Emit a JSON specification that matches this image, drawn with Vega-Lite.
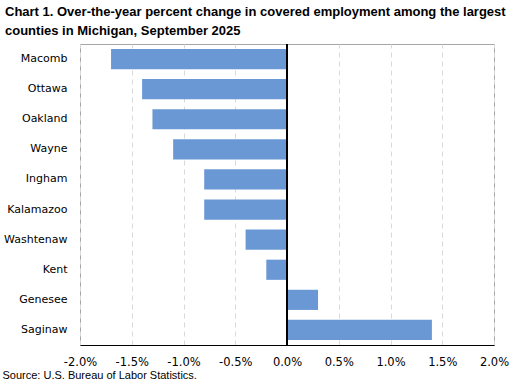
{
  "$schema": "https://vega.github.io/schema/vega-lite/v6.json",
  "width": 414,
  "height": 301,
  "autosize": "none",
  "padding": {"left": 80, "top": 44, "right": 22, "bottom": 38},
  "background": "white",
  "title": {
    "text": ["Chart 1.  Over-the-year percent change in covered employment among the largest", "counties in Michigan, September 2025"],
    "anchor": "start",
    "frame": "group",
    "dx": -75,
    "offset": 6,
    "font": "Liberation Sans",
    "fontSize": 13,
    "fontWeight": "bold",
    "color": "#000000",
    "lineHeight": 19
  },
  "config": {
    "view": {"stroke": "#a6a6a6", "strokeWidth": 1},
    "axis": {"labelFont": "DejaVu Sans", "labelFontSize": 11, "labelColor": "#000000"}
  },
  "data": {
    "values": [
      {"county": "Macomb", "change": -1.7},
      {"county": "Ottawa", "change": -1.4},
      {"county": "Oakland", "change": -1.3},
      {"county": "Wayne", "change": -1.1},
      {"county": "Ingham", "change": -0.8},
      {"county": "Kalamazoo", "change": -0.8},
      {"county": "Washtenaw", "change": -0.4},
      {"county": "Kent", "change": -0.2},
      {"county": "Genesee", "change": 0.3},
      {"county": "Saginaw", "change": 1.4}
    ]
  },
  "layer": [
    {
      "mark": {"type": "bar", "color": "#6a98d5"},
      "encoding": {
        "y": {
          "field": "county",
          "type": "nominal",
          "sort": null,
          "scale": {"paddingInner": 0.33, "paddingOuter": 0.165},
          "axis": {"title": null, "ticks": false, "domain": false, "labelPadding": 13}
        },
        "x": {
          "field": "change",
          "type": "quantitative",
          "scale": {"domain": [-2, 2], "nice": false},
          "axis": {
            "values": [-2, -1.5, -1, -0.5, 0, 0.5, 1, 1.5, 2],
            "labelExpr": "replace(format(datum.value, '.1f'), '\u2212', '-') + '%'",
            "labelOverlap": false,
            "labelFlush": false,
            "labelFontSize": 11.5,
            "ticks": false,
            "domainColor": "#000000",
            "labelPadding": 11,
            "grid": true,
            "gridColor": "#d9d9d9",
            "gridDash": [5, 4],
            "title": "Source: U.S. Bureau of Labor Statistics.",
            "titleFont": "Liberation Sans",
            "titleFontSize": 11,
            "titleFontWeight": "normal",
            "titleColor": "#000000",
            "titleAnchor": "start",
            "titleAlign": "left",
            "titleX": -78,
            "titleY": 33,
            "titleBaseline": "alphabetic"
          }
        }
      }
    },
    {
      "mark": {"type": "rule", "color": "#000000", "strokeWidth": 1},
      "encoding": {"x": {"datum": 0}}
    }
  ]
}
